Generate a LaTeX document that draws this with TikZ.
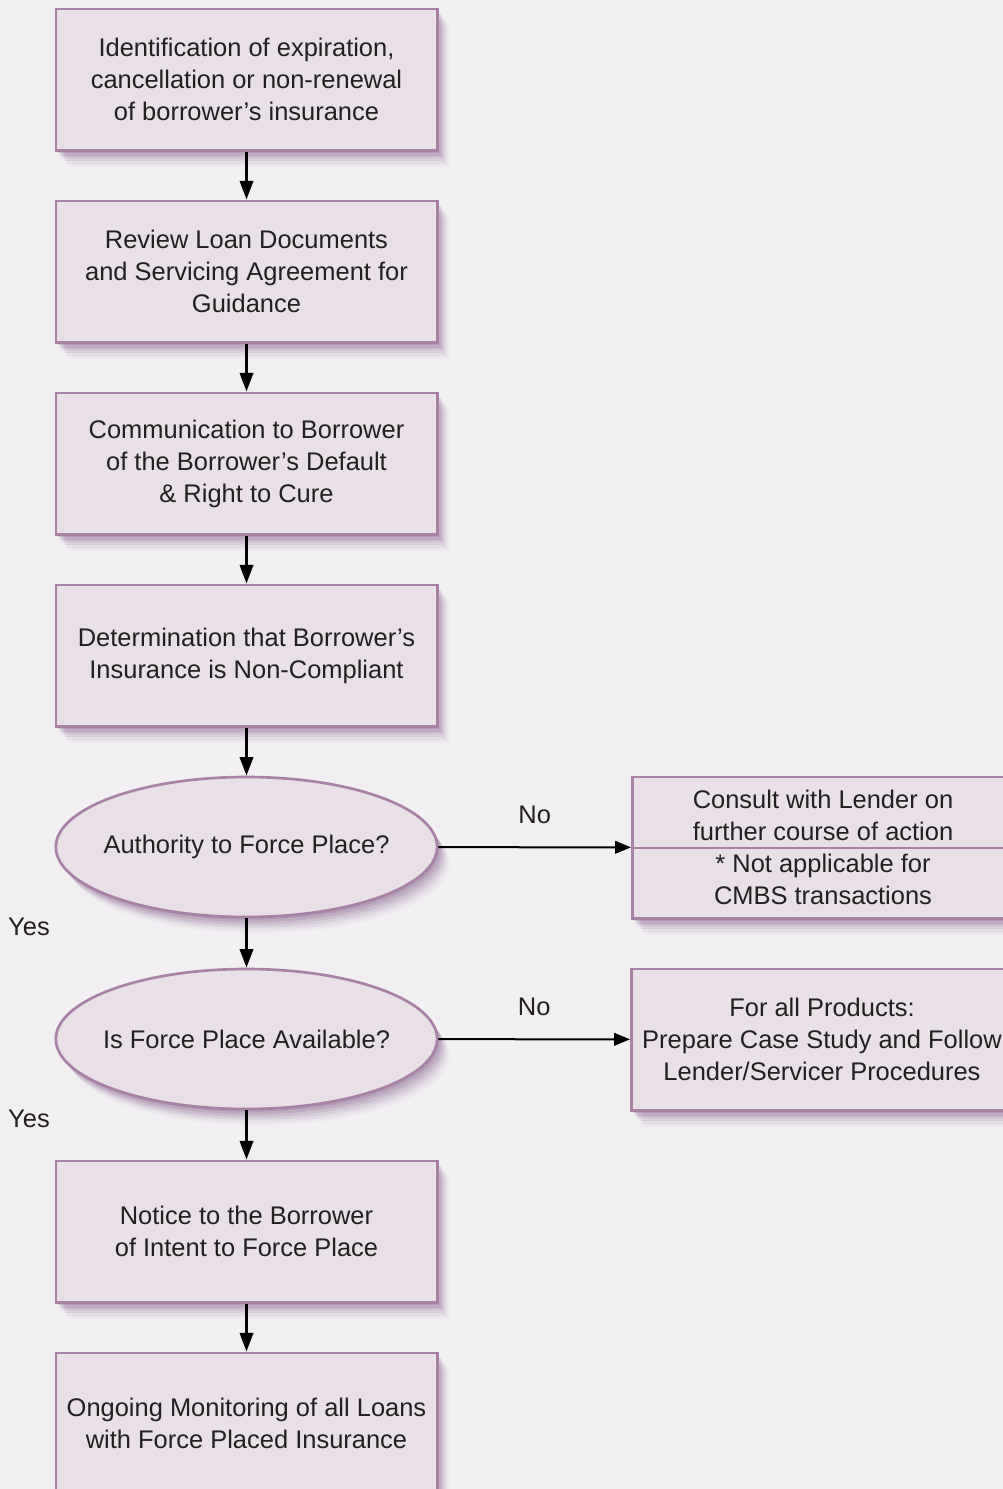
\documentclass[tikz,border=0pt]{standalone}
\usepackage{fontspec}
\setmainfont{Liberation Sans}
\usetikzlibrary{shapes.geometric,arrows.meta,shadows}
\definecolor{pagebg}{RGB}{241,239,242}
\definecolor{boxfill}{RGB}{232,223,231}
\definecolor{boxline}{RGB}{168,130,165}
\definecolor{shadowcol}{RGB}{140,100,145}
\definecolor{inktext}{RGB}{35,31,32}
\tikzset{
  softshadow/.style={
    drop shadow={shadow xshift=1.5pt,shadow yshift=-2pt,fill=shadowcol,opacity=.22},
    drop shadow={shadow xshift=3pt,shadow yshift=-4pt,fill=shadowcol,opacity=.20},
    drop shadow={shadow xshift=4.5pt,shadow yshift=-6pt,fill=shadowcol,opacity=.16},
    drop shadow={shadow xshift=6pt,shadow yshift=-8pt,fill=shadowcol,opacity=.12},
    drop shadow={shadow xshift=7.5pt,shadow yshift=-10pt,fill=shadowcol,opacity=.08},
    drop shadow={shadow xshift=9pt,shadow yshift=-12pt,fill=shadowcol,opacity=.05}},
  stepbox/.style={draw=boxline,line width=2pt,fill=boxfill,softshadow,
    minimum width=286pt,minimum height=106pt,align=center,text=inktext,
    font=\fontsize{19.1}{24}\selectfont},
  decision/.style={stepbox,ellipse,inner sep=0pt,inner xsep=-12pt,minimum height=105pt},
  flow/.style={line width=2pt,-{Triangle[length=14pt,width=10pt]}},
  branch/.style={line width=1.5pt,-{Triangle[length=12pt,width=9.5pt]}},
  answer/.style={text=inktext,font=\fontsize{19.1}{24}\selectfont}
}
\begin{document}
\begin{tikzpicture}[x=0.75pt,y=-0.75pt]
  \useasboundingbox (0,0) rectangle (1003,1489);
  \fill[pagebg] (0,0) rectangle (1003,1489);
  \clip (0,0) rectangle (1003,1489);
  %
  \node[stepbox] (ident)   at (246.5,79.5)   {Identification of expiration,\\cancellation or non-renewal\\of borrower’s insurance};
  \node[stepbox] (review)  at (246.5,271.5)  {Review Loan Documents\\and Servicing Agreement for\\Guidance};
  \node[stepbox] (notify)  at (246.5,463.5)  {Communication to Borrower\\of the Borrower’s Default\\\& Right to Cure};
  \node[stepbox] (determ)  at (246.5,655.5)  {Determination that Borrower’s\\Insurance is Non-Compliant};
  \node[decision] (authq)  at (246.5,847)    {Authority to Force Place?};
  \node[decision] (availq) at (246.5,1039)   {Is Force Place Available?};
  \node[stepbox] (intent)  at (246.5,1231.5) {Notice to the Borrower\\of Intent to Force Place};
  \node[stepbox] (monitor) at (246.5,1423.5) {Ongoing Monitoring of all Loans\\with Force Placed Insurance};
  \node[stepbox,inner ysep=2pt] (consult) at (823,847.5) {Consult with Lender on\\further course of action\\* Not applicable for\\CMBS transactions};
  \node[stepbox] (casestudy) at (822,1039.5) {For all Products:\\Prepare Case Study and Follow\\Lender/Servicer Procedures};
  \node[answer] (yesauth)  at (29,927)  {Yes};
  \node[answer] (yesavail) at (29,1119) {Yes};
  %
  \draw[boxline,line width=1.5pt] (consult.west) -- (consult.east);
  %
  \draw[flow] (ident) -- (review);
  \draw[flow] (review) -- (notify);
  \draw[flow] (notify) -- (determ);
  \draw[flow] (determ) -- (authq);
  \draw[flow] (authq) -- (availq);
  \draw[flow] (availq) -- (intent);
  \draw[flow] (intent) -- (monitor);
  \draw[branch] (authq) -- node[answer,midway,yshift=24pt] {No} (consult);
  \draw[branch] (availq) -- node[answer,midway,yshift=24pt] {No} (casestudy);
\end{tikzpicture}
\end{document}
